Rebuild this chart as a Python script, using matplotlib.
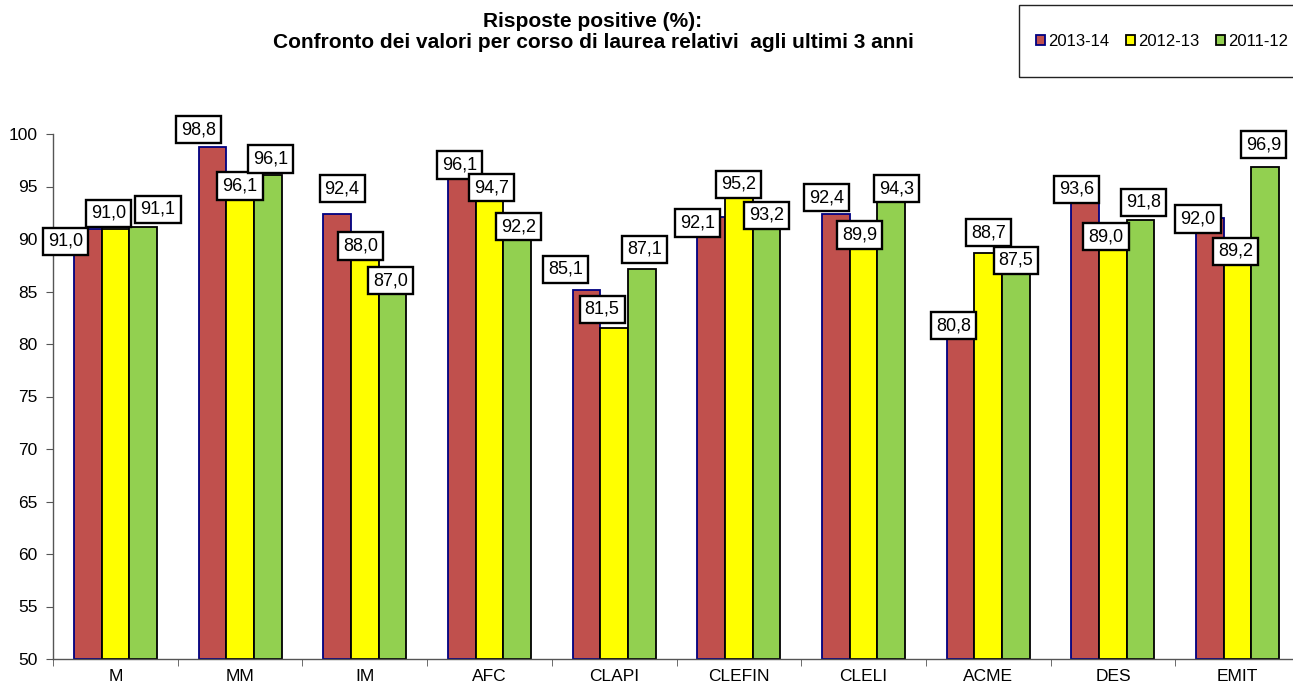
import numpy as np
import matplotlib
matplotlib.use('Agg')
import matplotlib.pyplot as plt
from matplotlib.patches import Rectangle

plt.rcParams['font.family'] = ['Liberation Sans', 'DejaVu Sans']

# data
courses = ['M', 'MM', 'IM', 'AFC', 'CLAPI', 'CLEFIN', 'CLELI', 'ACME', 'DES', 'EMIT']
years = ['2013-14', '2012-13', '2011-12']
v_1314 = [91.0, 98.8, 92.4, 96.1, 85.1, 92.1, 92.4, 80.8, 93.6, 92.0]
v_1213 = [91.0, 96.1, 88.0, 94.7, 81.5, 95.2, 89.9, 88.7, 89.0, 89.2]
v_1112 = [91.1, 96.1, 87.0, 92.2, 87.1, 93.2, 94.3, 87.5, 91.8, 96.9]
series = [v_1314, v_1213, v_1112]

colors = ['#C0504D', '#FFFF00', '#92D050']
edges = ['#000080', '#000000', '#000000']

# label nudges in pixels (dx, dy) relative to top-centre of each bar,
# the original labels were moved around by hand in the spreadsheet
nudge = [
    [(-22, -13), (-14, 17), (5, 25), (-2, 10), (-21, 21), (-14, -6), (-9, 16), (-7, 10), (-9, 12), (-12, -1)],
    [(-7, 15), (0, -11), (-4, 14), (2, 2), (-12, 19), (0, 0), (-4, 5), (0, 20), (-7, 13), (-2, -4)],
    [(15, 18), (3, 16), (-2, -10), (1, -11), (3, 20), (0, -10), (5, 5), (0, 5), (3, 18), (-2, 22)],
]

fig = plt.figure(figsize=(12.93, 6.88), dpi=100)
ax = fig.add_axes([53 / 1293, 29 / 688, 1247 / 1293, 525 / 688])

x = np.arange(len(courses))
w = 0.222
for k, vals in enumerate(series):
    pos = x + (k - 1) * w
    ax.bar(pos, np.array(vals) - 50, bottom=50, width=w, color=colors[k],
           edgecolor=edges[k], linewidth=1.3, label=years[k], zorder=2)

for k, vals in enumerate(series):
    pos = x + (k - 1) * w
    for i, v in enumerate(vals):
        dx, dy = nudge[k][i]
        ax.annotate(f'{v:.1f}'.replace('.', ','), (pos[i], v),
                    xytext=(dx, dy), textcoords='offset pixels',
                    ha='center', va='center', fontsize=13, zorder=5 + k,
                    annotation_clip=False,
                    bbox=dict(boxstyle='square,pad=0.28', fc='white',
                              ec='black', lw=1.7))

ax.set_xlim(-0.5, len(courses) - 0.5)
ax.set_ylim(50, 100)
ax.set_yticks(np.arange(50, 101, 5))
ax.set_xticks(x)
ax.set_xticklabels(courses)
ax.set_xticks(np.arange(-0.5, len(courses), 1), minor=True)
ax.tick_params(axis='x', which='major', length=0, labelsize=12.5, pad=7)
ax.tick_params(axis='x', which='minor', length=5, color='#555555')
ax.tick_params(axis='y', length=5, color='#555555', labelsize=12.5, pad=6)
for s in ['top', 'right']:
    ax.spines[s].set_visible(False)
for s in ['left', 'bottom']:
    ax.spines[s].set_color('#555555')
    ax.spines[s].set_linewidth(1.0)

fig.text(593 / 1293, 1 - 32 / 688,
         'Risposte positive (%):\nConfronto dei valori per corso di laurea relativi  agli ultimi 3 anni',
         ha='center', va='center', fontsize=15, fontweight='bold', linespacing=1.1)

# legend box
fig.patches.append(Rectangle((1019 / 1293, 1 - 77 / 688), 300 / 1293, 72 / 688,
                             transform=fig.transFigure, fill=False,
                             ec='#222222', lw=1.0))
fig.legend(loc='center', bbox_to_anchor=(1162 / 1293, 1 - 41 / 688), ncol=3,
           frameon=False, fontsize=12, handlelength=0.55, handleheight=0.55,
           handletextpad=0.18, columnspacing=1.0, borderaxespad=0, borderpad=0)

plt.savefig('out.png', dpi=100)
